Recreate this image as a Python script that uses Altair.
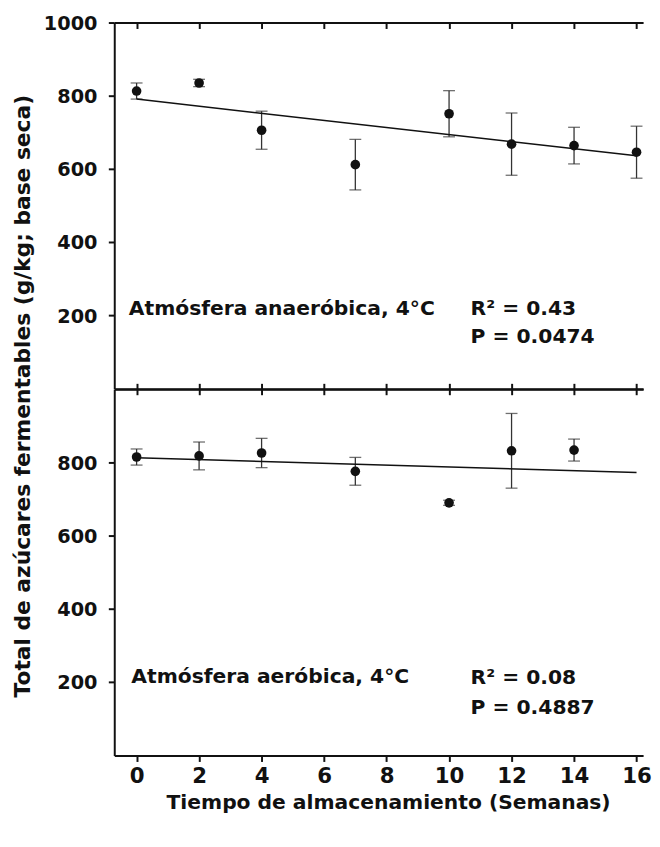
import altair as alt
import pandas as pd

# ---- data ----
weeks_top = [0, 2, 4, 7, 10, 12, 14, 16]
mean_top = [813, 835, 706, 612, 751, 668, 664, 646]
err_top = [22, 10, 52, 69, 63, 85, 50, 71]

weeks_bot = [0, 2, 4, 7, 10, 12, 14]
mean_bot = [815, 818, 826, 776, 690, 832, 834]
err_bot = [22, 38, 40, 38, 7, 102, 30]

fit_x = [0, 16]
fit_top = [791, 636]
fit_bot = [813, 773]

x_ticks = [0, 2, 4, 6, 8, 10, 12, 14, 16]
y_ticks_top = [200, 400, 600, 800, 1000]
y_ticks_bot = [200, 400, 600, 800]

labels_top = ["Atmósfera anaeróbica, 4°C", "R² = 0.43", "P = 0.0474"]
labels_bot = ["Atmósfera aeróbica, 4°C", "R² = 0.08", "P = 0.4887"]
label_x_top = [-0.25, 10.69, 10.69]
label_x_bot = [-0.17, 10.69, 10.69]
label_y_top = [201, 201, 124]
label_y_bot = [197, 195, 112]

x_title = "Tiempo de almacenamiento (Semanas)"
y_title = "Total de azúcares fermentables (g/kg; base seca)"

FONT = "DejaVu Sans"
W = 535
H = 370.5
PX_PER_WEEK = 31.61
X_MIN = -0.715
INK = "#111111"

xscale = alt.Scale(domain=[X_MIN, X_MIN + W / PX_PER_WEEK], nice=False, zero=False)
yscale = alt.Scale(domain=[0, 1000], nice=False, zero=True)

base_axis = dict(grid=False, domainColor=INK, domainWidth=2, tickColor=INK,
                 tickWidth=2, tickSize=6, labelFont=FONT, labelFontWeight="bold",
                 labelColor=INK, titleFont=FONT, titleFontWeight="bold",
                 titleColor=INK)


def ax(**kw):
    d = dict(base_axis)
    d.update(kw)
    return alt.Axis(**d)


def panel(weeks, means, errs, fit, labels, lx, ly, yticks, top):
    df = pd.DataFrame({"w": weeks, "m": means, "e": errs})
    df["lo"] = df["m"] - df["e"]
    df["hi"] = df["m"] + df["e"]
    fdf = pd.DataFrame({"w": fit_x, "f": fit})
    tdf = pd.DataFrame({"t": labels, "lx": lx, "ly": ly})

    ylab = dict(labelFontSize=19.5, labelPadding=11.5, labelBaseline="top",
                labelOffset=-8.3)
    if top:
        ax_rule = ax(orient="bottom", values=x_ticks, labels=False, title=None)
        ax_lo = ax(orient="top", ticks=False, labels=False, title=None)
        ax_hi = ax(orient="top", offset=-6, domain=False, values=x_ticks,
                   labels=False, title=None)
        yax = ax(orient="left", values=yticks, format="d", title=y_title,
                 titleFontSize=22, titleX=-93, titleY=377.5,
                 titleBaseline="middle", **ylab)
    else:
        ax_rule = ax(orient="bottom", values=x_ticks, labelFontSize=21.5,
                     labelPadding=4, title=x_title, titleFontSize=20.5,
                     titleX=277, titleY=38, titleBaseline="top")
        ax_lo = ax(orient="top", values=x_ticks, labels=False, title=None)
        ax_hi = None
        yax = ax(orient="left", values=yticks, format="d", title=None, **ylab)

    b = alt.Chart(df)
    rules = b.mark_rule(color="#333333", strokeWidth=1.3).encode(
        x=alt.X("w:Q", scale=xscale, axis=ax_rule),
        y=alt.Y("lo:Q", scale=yscale, axis=yax),
        y2="hi:Q",
    )
    caps_lo = b.mark_tick(orient="horizontal", size=12, thickness=1.3,
                          color="#333333").encode(
        x=alt.X("w:Q", scale=xscale, axis=ax_lo),
        y=alt.Y("lo:Q", scale=yscale, axis=yax),
    )
    caps_hi = b.mark_tick(orient="horizontal", size=12, thickness=1.3,
                          color="#333333").encode(
        x=alt.X("w:Q", scale=xscale, axis=ax_hi),
        y=alt.Y("hi:Q", scale=yscale, axis=yax),
    )
    pts = b.mark_circle(size=95, color=INK, opacity=1).encode(
        x=alt.X("w:Q", scale=xscale, axis=None),
        y=alt.Y("m:Q", scale=yscale, axis=yax),
    )
    line = alt.Chart(fdf).mark_line(color=INK, strokeWidth=1.5).encode(
        x=alt.X("w:Q", scale=xscale, axis=None),
        y=alt.Y("f:Q", scale=yscale, axis=yax),
    )
    txt = alt.Chart(tdf).mark_text(align="left", baseline="alphabetic",
                                   font=FONT, fontSize=20.5, fontWeight="bold",
                                   color=INK).encode(
        x=alt.X("lx:Q", scale=xscale, axis=None),
        y=alt.Y("ly:Q", scale=yscale, axis=yax),
        text="t:N",
    )
    return alt.layer(rules, caps_lo, caps_hi, line, pts, txt).resolve_axis(
        x="independent").properties(width=W, height=H)


top = panel(weeks_top, mean_top, err_top, fit_top, labels_top, label_x_top,
            label_y_top, y_ticks_top, True)
bot = panel(weeks_bot, mean_bot, err_bot, fit_bot, labels_bot, label_x_bot,
            label_y_bot, y_ticks_bot, False)

chart = alt.vconcat(top, bot, spacing=0, bounds="flush").configure_view(
    stroke=None).properties(
    padding={"left": 3.5, "top": 0, "right": 0, "bottom": 0},
    background="white")

chart.save("out.html", embed_options={"renderer": "svg", "actions": False})
